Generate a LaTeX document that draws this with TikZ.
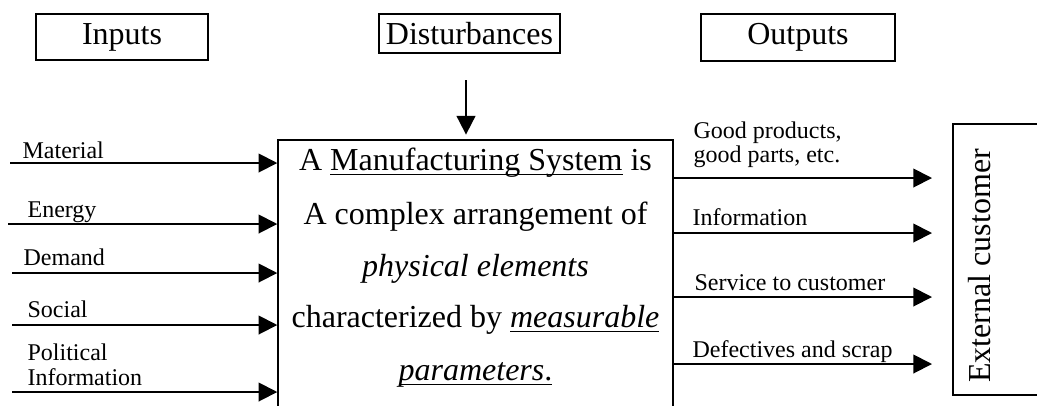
\documentclass[tikz,border=0pt]{standalone}
\usepackage{fontspec}
\setmainfont{Liberation Serif}
\usetikzlibrary{arrows.meta}

% underline sitting just under the baseline
\newcommand{\wordline}[1]{\setbox0\hbox{#1}\rlap{\rule[-3.6pt]{\wd0}{0.9pt}}\box0\relax}

\tikzset{
  flow/.style={line width=1.4pt, -{Triangle[length=14pt,width=14pt]}},
  bigtext/.style={font=\fontsize{24}{28}\selectfont},
  smalltext/.style={font=\fontsize{18}{15}\selectfont, inner sep=1pt},
  headbox/.style={draw, line width=1.1pt, inner sep=0pt, bigtext},
}

\begin{document}
\begin{tikzpicture}[x=0.75pt,y=-0.75pt]
                        \useasboundingbox (0,0) rectangle (1037,405);
                        \clip (0,0) rectangle (1037,405);
                        {
                        % Header boxes
                        \node [headbox, minimum width=129pt, minimum height=34.5pt] (inputs) at (122,37) {Inputs};%
                        \node [headbox, minimum width=135.75pt, minimum height=29.25pt] (disturb) at (469.5,33.5) {Disturbances};%
                        \node [headbox, minimum width=145.5pt, minimum height=35.25pt] (outputs) at (798,37.5) {Outputs};%

                        % Drawing the system box (open at the bottom)
                        \node [draw, line width=1.1pt, inner sep=0pt, minimum width=296.25pt, minimum height=217.5pt] (msys) at (475.5,285) {};%
                        \node [bigtext, anchor=base] (msysa) at (475.5,170) {A \wordline{Manufacturing System} is};%
                        \node [bigtext, anchor=base] (msysb) at (475.5,224) {A complex arrangement of};%
                        \node [bigtext, anchor=base] (msysc) at (475.5,276) {\textit{physical elements}};%
                        \node [bigtext, anchor=base] (msysd) at (475.5,327) {characterized by \wordline{\textit{measurable}}};%
                        \node [bigtext, anchor=base] (msyse) at (475.5,380) {\wordline{\textit{parameters}.}};%

                        % Drawing the customer box
                        \node [draw, line width=1.1pt, inner sep=0pt, minimum width=70.5pt, minimum height=203.25pt] (cust) at (1000,259.5) {};%
                        \node [bigtext, rotate=90] (custtext) at (980,266) {External customer};%

                        % Drawing disturbance arrow
                        \coordinate (distA) at (466,80);%
                        \draw [flow, shorten >=3.5pt] (distA) -- (msys.north -| distA);%

                        % Drawing input Material
                        \coordinate (matA) at (10,163);%
                        \draw [flow] (matA) -- (msys.west |- matA);%
                        \node [smalltext, anchor=base west] (matL) at (21,158) {Material};%

                        % Drawing input Energy
                        \coordinate (enA) at (8,224);%
                        \draw [flow] (enA) -- (msys.west |- enA);%
                        \node [smalltext, anchor=base west] (enL) at (26,217) {Energy};%

                        % Drawing input Demand
                        \coordinate (demA) at (12,273);%
                        \draw [flow] (demA) -- (msys.west |- demA);%
                        \node [smalltext, anchor=base west] (demL) at (22,265) {Demand};%

                        % Drawing input Social
                        \coordinate (socA) at (12,325);%
                        \draw [flow] (socA) -- (msys.west |- socA);%
                        \node [smalltext, anchor=base west] (socL) at (26,317) {Social};%

                        % Drawing input Political Information
                        \coordinate (polA) at (12,392);%
                        \draw [flow] (polA) -- (msys.west |- polA);%
                        \node [smalltext, anchor=base west] (polL) at (26,360) {Political};%
                        \node [smalltext, anchor=base west] (polM) at (26,385) {Information};%

                        % Drawing output Good products
                        \coordinate (goodE) at (932,178);%
                        \draw [flow] (msys.east |- goodE) -- (goodE);%
                        \node [smalltext, align=left, anchor=base west] (goodL) at (692,162) {Good products,\\good parts, etc.};%

                        % Drawing output Information
                        \coordinate (infE) at (932,233);%
                        \draw [flow] (msys.east |- infE) -- (infE);%
                        \node [smalltext, anchor=base west] (infL) at (691,225) {Information};%

                        % Drawing output Service
                        \coordinate (servE) at (932,297);%
                        \draw [flow] (msys.east |- servE) -- (servE);%
                        \node [smalltext, anchor=base west] (servL) at (693,290) {Service to customer};%

                        % Drawing output Defectives
                        \coordinate (defE) at (932,364);%
                        \draw [flow] (msys.east |- defE) -- (defE);%
                        \node [smalltext, anchor=base west] (defL) at (691,357) {Defectives and scrap};%
                        }
\end{tikzpicture}
\end{document}
